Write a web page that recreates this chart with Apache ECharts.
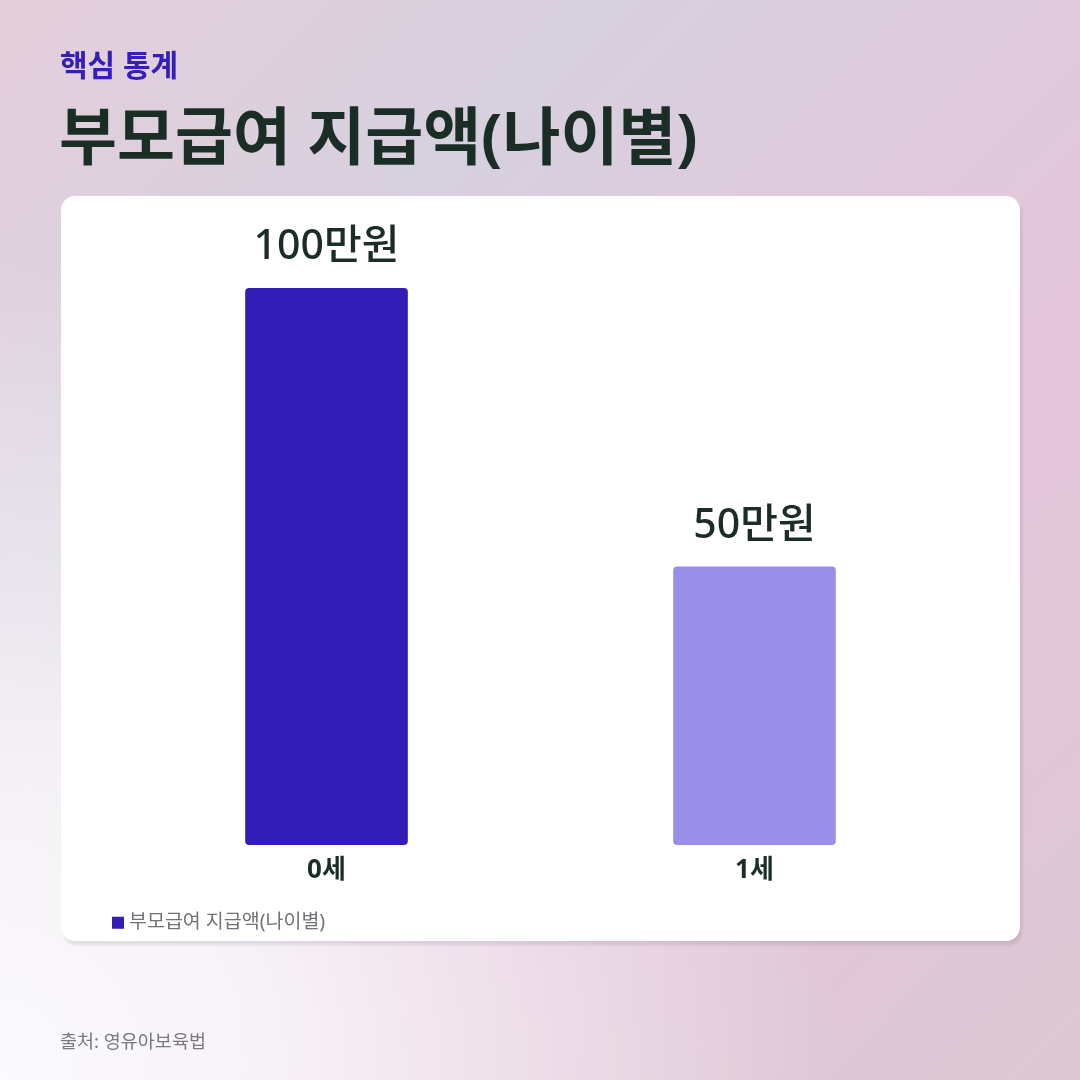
<!DOCTYPE html>
<html lang="ko">
<head>
<meta charset="utf-8">
<title>부모급여 지급액(나이별)</title>
<script src="https://cdn.jsdelivr.net/npm/echarts@6/dist/echarts.min.js"></script>
<style>
  html, body {
    margin: 0;
    padding: 0;
  }
  body {
    width: 1080px;
    height: 1080px;
    position: relative;
    overflow: hidden;
    font-family: "Noto Sans CJK KR", "Noto Sans", sans-serif;
    background:
      radial-gradient(circle at 0% 100%, #fbfafc 0%, rgba(251, 250, 252, 0.85) 18%, rgba(251, 250, 252, 0) 55%),
      linear-gradient(135deg, #e5cfdb 0%, #d7d0de 28%, #e4c5da 65%, #dcc8d3 100%);
  }
  .card {
    position: absolute;
    left: 61px;
    top: 196px;
    width: 959px;
    height: 745px;
    background: #fff;
    border-radius: 14px;
    box-shadow: 2px 4px 3px rgba(60, 50, 70, 0.12);
  }
  #chart {
    position: absolute;
    left: 0;
    top: 0;
    width: 1080px;
    height: 1080px;
  }
</style>
</head>
<body>
<div class="card"></div>
<div id="chart"></div>
<script>
// 데이터
var categories = ["0세", "1세"];
var values = [100, 50];
var valueLabels = ["100만원", "50만원"];
var barColors = ["#321eb6", "#9b8eeb"];
var seriesName = "부모급여 지급액(나이별)";

var chart = echarts.init(document.getElementById("chart"), null, { renderer: "canvas" });

var barData = values.map(function (v, i) {
  return {
    value: v,
    itemStyle: { color: barColors[i] },
    label: { formatter: valueLabels[i] }
  };
});

chart.setOption({
  backgroundColor: "transparent",
  animation: false,
  textStyle: {
    fontFamily: "'Noto Sans', 'Noto Sans CJK KR', sans-serif"
  },
  title: [
    {
      text: "핵심 통계",
      left: 60,
      top: 52,
      padding: 0,
      textStyle: { fontSize: 30, fontWeight: "bold", color: "#3420b8" }
    },
    {
      text: "부모급여 지급액(나이별)",
      left: 59,
      top: 110,
      padding: 0,
      textStyle: { fontSize: 63, fontWeight: "bold", color: "#1b2e26" }
    },
    {
      text: "출처: 영유아보육법",
      left: 60,
      top: 1033,
      padding: 0,
      textStyle: { fontSize: 18.5, fontWeight: "normal", color: "#7a7a7e" }
    }
  ],
  legend: {
    data: [seriesName],
    left: 107,
    top: 908,
    icon: "rect",
    itemWidth: 12,
    itemHeight: 12,
    itemGap: 8,
    textStyle: { fontSize: 19.5, color: "#6f7377" }
  },
  grid: {
    left: 112.5,
    right: 111.5,
    top: 288,
    bottom: 235,
    containLabel: false
  },
  xAxis: {
    type: "category",
    data: categories,
    axisLine: { show: false },
    axisTick: { show: false },
    axisLabel: {
      margin: 13,
      fontSize: 26,
      fontWeight: "bold",
      color: "#1b2e26"
    }
  },
  yAxis: {
    type: "value",
    min: 0,
    max: 100,
    show: false
  },
  series: [
    {
      name: seriesName,
      type: "bar",
      data: barData,
      barWidth: "38%",
      itemStyle: {
        color: barColors[0],
        borderRadius: 4
      },
      label: {
        show: true,
        position: "top",
        distance: 20,
        fontSize: 41,
        fontWeight: 500,
        color: "#1b2e26"
      }
    }
  ]
});
</script>
</body>
</html>
